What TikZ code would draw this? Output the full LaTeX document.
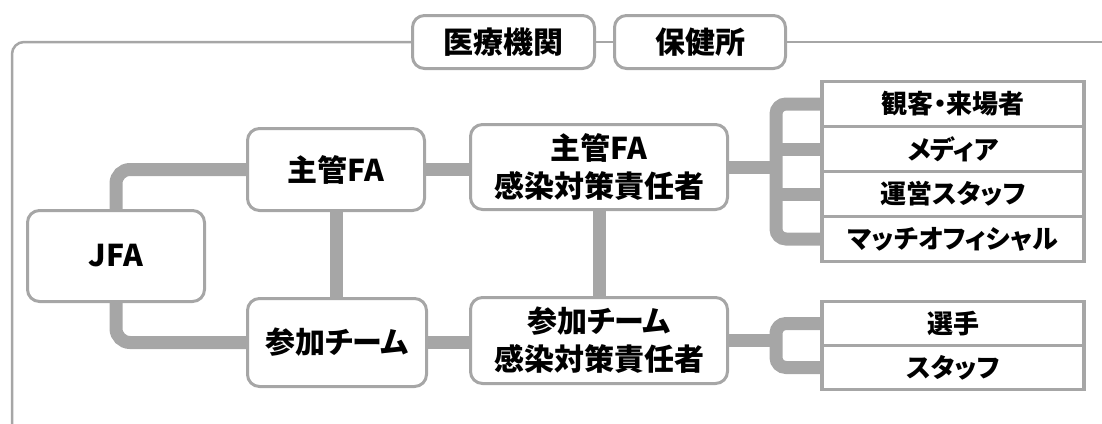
\documentclass[tikz,border=0pt]{standalone}
\usepackage{fontspec}
\usepackage{tikz}
\newfontfamily\jpfont{Noto Sans CJK JP}[RawFeature=+palt]
\definecolor{linegray}{HTML}{A6A6A6}
\tikzset{
    orgbox/.style={draw=linegray, line width=3pt, rounded corners=12pt, fill=white,
        align=center, inner sep=0pt, font=\jpfont\bfseries\fontsize{30}{38}\selectfont},
    listbox/.style={draw=linegray, line width=3.5pt, fill=white, inner sep=0pt,
        minimum width=262pt, font=\jpfont\bfseries\fontsize{26}{30}\selectfont},
    thickline/.style={draw=linegray, line width=13pt},
    frameline/.style={draw=linegray, line width=2.5pt},
}

\begin{document}
\begin{tikzpicture}[x=1pt,y=-1pt]
\useasboundingbox (0,0) rectangle (1102,423);

\node[orgbox, minimum width=182pt, minimum height=53pt] (iryo) at (503.5,42) {医療機関};
\node[orgbox, minimum width=171pt, minimum height=53pt] (hoken) at (700,42) {保健所};

\node[orgbox, minimum width=177pt, minimum height=91pt] (jfa) at (116,256) {JFA};
\node[orgbox, minimum width=177pt, minimum height=82pt] (shukan) at (336,169.5) {主管FA};
\node[orgbox, minimum width=179pt, minimum height=88pt] (sanka) at (337,342.5) {参加チーム};
\node[orgbox, minimum width=257pt, minimum height=85pt] (shukanR) at (599,167) {主管FA\\感染対策責任者};
\node[orgbox, minimum width=257pt, minimum height=86pt] (sankaR) at (599,340.5) {参加チーム\\感染対策責任者};

\node[listbox, minimum height=45pt] (kankyaku) at (953,104) {観客・来場者};
\node[listbox, minimum height=45pt] (media) at (953,149) {メディア};
\node[listbox, minimum height=45pt] (unei) at (953,194) {運営スタッフ};
\node[listbox, minimum height=45pt] (match) at (953,239) {マッチオフィシャル};
\node[listbox, minimum height=44pt] (senshu) at (953,323.5) {選手};
\node[listbox, minimum height=44pt] (staff) at (953,367.5) {スタッフ};

\coordinate (framebot) at (12,425);
\coordinate (frameend) at (1104,42);
\draw[frameline, rounded corners=12pt] (framebot) |- (iryo.west);
\draw[frameline] (iryo.east) -- (hoken.west);
\draw[frameline] (hoken.east) -- (frameend);

\draw[thickline, rounded corners=14pt] (jfa.north) |- (shukan.west);
\draw[thickline, rounded corners=14pt] (jfa.south) |- (sanka.west);
\draw[thickline] (shukan.south) -- (shukan.south |- sanka.north);
\draw[thickline] (shukan.east) -- (shukan.east -| shukanR.west);
\draw[thickline] (sanka.east) -- (sanka.east -| sankaR.west);
\draw[thickline] (shukanR.south) -- (sankaR.north);

\coordinate (bus1) at (776,167);
\coordinate (bus2) at (776,340.5);
\draw[thickline] (shukanR.east) -- (bus1);
\draw[thickline, rounded corners=10pt] (kankyaku.west) -| (bus1) |- (match.west);
\draw[thickline] (media.west) -- (media.west -| bus1);
\draw[thickline] (unei.west) -- (unei.west -| bus1);
\draw[thickline] (sankaR.east) -- (bus2);
\draw[thickline, rounded corners=10pt] (senshu.west) -| (bus2) |- (staff.west);
\end{tikzpicture}
\end{document}
